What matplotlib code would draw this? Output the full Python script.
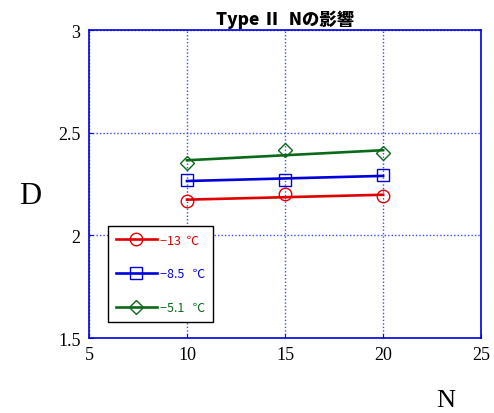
import matplotlib
matplotlib.use("Agg")
import matplotlib.pyplot as plt
import numpy as np

# N の値と各温度での D
n_vals = [10, 15, 20]
d_m13 = [2.167, 2.200, 2.191]
d_m85 = [2.269, 2.269, 2.294]
d_m51 = [2.354, 2.414, 2.403]

series = [
    (d_m13, "#e00000", "o", "\u221213  \u2103"),
    (d_m85, "#0000dd", "s", "\u22128.5   \u2103"),
    (d_m51, "#0a6a1a", "D", "\u22125.1   \u2103"),
]

serif = ["Liberation Serif", "DejaVu Serif"]
gothic = ["Noto Sans CJK JP", "DejaVu Sans"]

plt.rcParams["grid.color"] = "#3a4cff"
plt.rcParams["grid.linestyle"] = (0, (1, 1.5))
plt.rcParams["grid.linewidth"] = 1.0
plt.rcParams["grid.alpha"] = 1.0

fig = plt.figure(figsize=(4.94, 4.14), dpi=100)
ax = fig.add_axes([0.180, 0.181, 0.794, 0.744])

x = np.array(n_vals, dtype=float)
for d, col, mk, lab in series:
    y = np.array(d)
    # 直線近似
    a, b = np.polyfit(x, y, 1)
    ms = 9 if mk != "D" else 7.5
    ax.plot(x, a * x + b, color=col, lw=1.9, zorder=3)
    ax.plot(x, y, ls="none", marker=mk, ms=ms,
            mfc="none", mec=col, mew=1.0, zorder=4)
    # 凡例用
    ax.plot([], [], color=col, lw=1.9, marker=mk, ms=ms,
            mfc="none", mec=col, mew=1.0, label=lab)

ax.set_xlim(5, 25)
ax.set_ylim(1.5, 3)
ax.set_xticks([5, 10, 15, 20, 25])
ax.set_yticks([1.5, 2, 2.5, 3])
ax.set_xticklabels(["5", "10", "15", "20", "25"])
ax.set_yticklabels(["1.5", "2", "2.5", "3"])
for lab in ax.get_xticklabels() + ax.get_yticklabels():
    lab.set_family(serif)
    lab.set_fontsize(13)

ax.tick_params(direction="in", length=3, width=0.8, color="#0000dd", pad=6)
for s in ax.spines.values():
    s.set_color("#0000dd")
    s.set_linewidth(1.2)
ax.grid(True, color="#3a4cff")

ax.set_title("Type \u2161  N\u306e\u5f71\u97ff", family=gothic, fontweight="heavy",
             fontsize=12.5, pad=4)

fig.text(30 / 494, 1 - 197 / 414, "D", family=serif, fontsize=22,
         ha="center", va="center")
fig.text(446 / 494, 1 - 401 / 414, "N", family=serif, fontsize=19,
         ha="center", va="center")

leg = ax.legend(loc="lower left", bbox_to_anchor=(0.048, 0.052),
                borderaxespad=0, fancybox=False, framealpha=1,
                edgecolor="black", prop={"family": gothic, "size": 9},
                labelcolor="linecolor", handlelength=3.3, labelspacing=1.65,
                handletextpad=0.2, borderpad=0.65)
leg.get_frame().set_linewidth(1.0)

fig.savefig("out.png", dpi=100)
